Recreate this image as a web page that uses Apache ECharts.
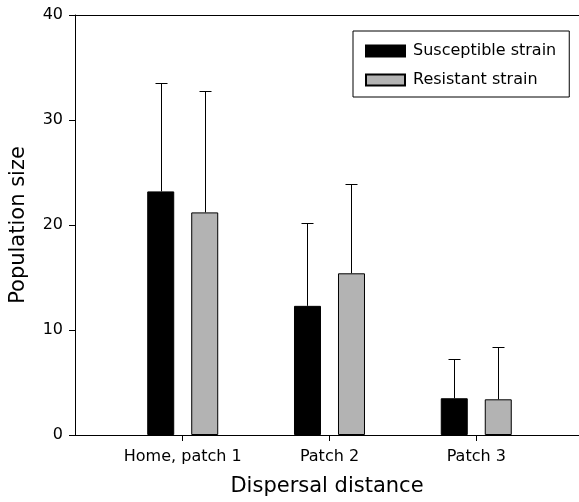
<!DOCTYPE html>
<html>
<head>
<meta charset="utf-8">
<script src="https://cdn.jsdelivr.net/npm/echarts@6/dist/echarts.min.js"></script>
<style>html,body{margin:0;padding:0;background:#fff}#c{width:579px;height:502px}</style>
</head>
<body>
<div id="c"></div>
<script>
var categories = ['Home, patch 1', 'Patch 2', 'Patch 3'];
var seriesNames = ['Susceptible strain', 'Resistant strain'];
var susceptible = [23.2, 12.3, 3.5];
var susceptibleErr = [33.5, 20.2, 7.2];
var resistant = [21.2, 15.4, 3.4];
var resistantErr = [32.8, 23.9, 8.4];
var yTicks = [0, 10, 20, 30, 40];

var FONT = 'DejaVu Sans, Liberation Sans, Arial, sans-serif';
var BAR_W = 27, BAR_GAP = 17;
var positions = categories.map(function (c, i) { return i + 1; });

function barData(vals) { return vals.map(function (v, i) { return [positions[i], v]; }); }
function errData(vals, errs) { return vals.map(function (v, i) { return [positions[i], v, errs[i]]; }); }

function errSeries(vals, errs, dir) {
  return {
    type: 'custom',
    z: 5,
    silent: true,
    data: errData(vals, errs),
    encode: { x: 0, y: [1, 2] },
    renderItem: function (params, api) {
      var off = dir * (BAR_W + BAR_GAP) / 2;
      var lo = api.coord([api.value(0), api.value(1)]);
      var hi = api.coord([api.value(0), api.value(2)]);
      var x = Math.round(lo[0] + off) + 0.5;
      var yt = Math.round(hi[1]) + 0.5;
      var capHalf = 6;
      return {
        type: 'group',
        children: [
          { type: 'line', shape: { x1: x, y1: lo[1], x2: x, y2: yt }, style: { stroke: '#000', lineWidth: 1 } },
          { type: 'line', shape: { x1: x - capHalf, y1: yt, x2: x + capHalf, y2: yt }, style: { stroke: '#000', lineWidth: 1 } }
        ]
      };
    }
  };
}

var chart = echarts.init(document.getElementById('c'), null, { renderer: 'canvas' });
chart.setOption({
  animation: false,
  backgroundColor: '#fff',
  textStyle: { fontFamily: FONT, color: '#000' },
  grid: { left: 75, right: 0, top: 15, bottom: 65, containLabel: false },
  legend: {
    left: 353, top: 31,
    orient: 'vertical',
    data: seriesNames,
    itemWidth: 39, itemHeight: 11, itemGap: 13,
    padding: [12, 13, 9, 12],
    borderColor: '#000', borderWidth: 1,
    icon: 'rect',
    textStyle: { fontFamily: FONT, fontSize: 16, color: '#000', padding: [0, 0, 0, 3] }
  },
  xAxis: [{
    type: 'value',
    min: 0.266, max: 3.70,
    name: 'Dispersal distance',
    nameLocation: 'middle',
    nameGap: 41,
    nameTextStyle: { fontFamily: FONT, fontSize: 21, color: '#000' },
    axisLine: { show: true, lineStyle: { color: '#000', width: 1 } },
    axisTick: { show: true, length: 6, lineStyle: { color: '#000' }, customValues: positions },
    axisLabel: {
      customValues: positions,
      fontFamily: FONT, fontSize: 16, color: '#000', margin: 14,
      formatter: function (v) { return categories[Math.round(v) - 1] || ''; }
    },
    splitLine: { show: false }
  }, {
    type: 'value',
    position: 'top',
    min: 0.266, max: 3.70,
    axisLine: { show: true, onZero: false, lineStyle: { color: '#000', width: 1 } },
    axisTick: { show: false },
    axisLabel: { show: false },
    splitLine: { show: false }
  }],
  yAxis: {
    type: 'value',
    min: 0, max: 40, interval: 10,
    name: 'Population size',
    nameLocation: 'middle',
    nameGap: 46,
    nameTextStyle: { fontFamily: FONT, fontSize: 21, color: '#000' },
    axisLine: { show: true, lineStyle: { color: '#000', width: 1 } },
    axisTick: { show: true, length: 6, lineStyle: { color: '#000' } },
    axisLabel: {
      fontFamily: FONT, fontSize: 16, color: '#000', margin: 12,
      formatter: function (v) { return yTicks.indexOf(v) >= 0 ? String(v) : ''; }
    },
    splitLine: { show: false }
  },
  series: [
    {
      name: seriesNames[0], type: 'bar',
      data: barData(susceptible),
      barWidth: BAR_W, barGap: (BAR_GAP / BAR_W * 100) + '%',
      itemStyle: { color: '#000', borderColor: '#000', borderWidth: 1 }
    },
    {
      name: seriesNames[1], type: 'bar',
      data: barData(resistant),
      barWidth: BAR_W, barGap: (BAR_GAP / BAR_W * 100) + '%',
      itemStyle: { color: '#b3b3b3', borderColor: '#000', borderWidth: 1 }
    },
    errSeries(susceptible, susceptibleErr, -1),
    errSeries(resistant, resistantErr, 1)
  ]
});
</script>
</body>
</html>
